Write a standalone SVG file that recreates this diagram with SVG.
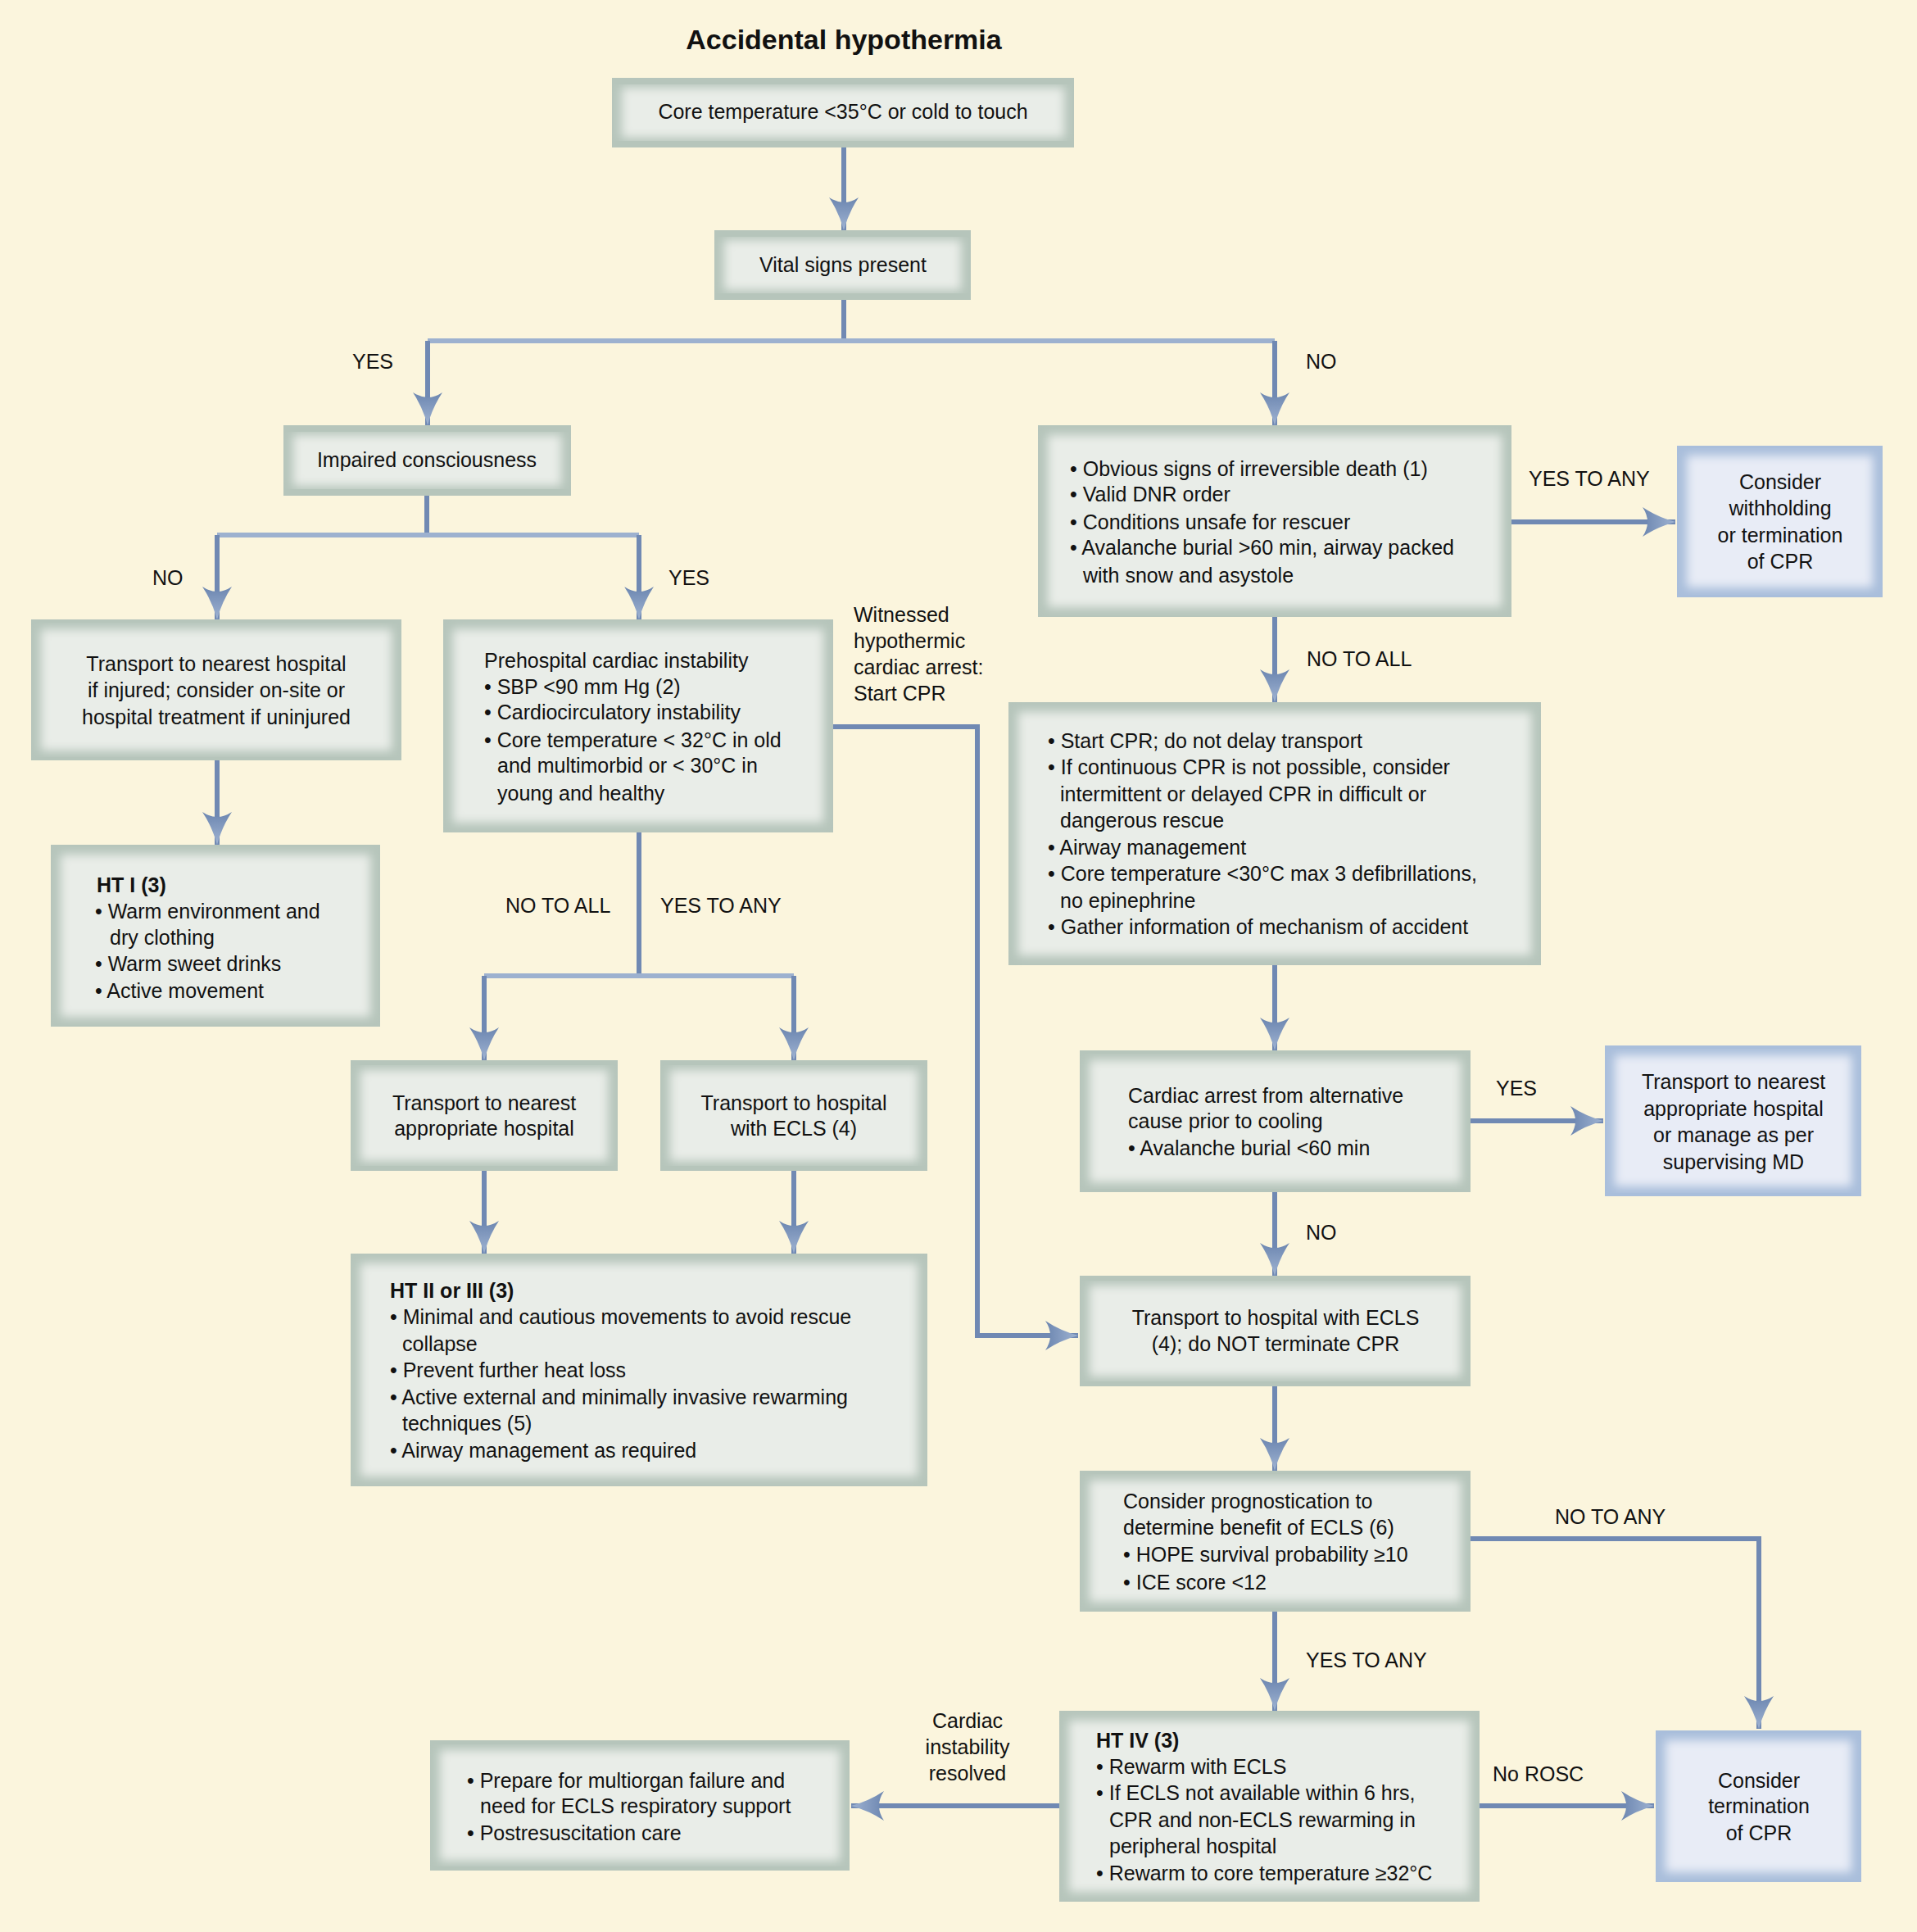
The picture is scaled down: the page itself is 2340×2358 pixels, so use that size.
<svg xmlns="http://www.w3.org/2000/svg" width="2340" height="2358" viewBox="0 0 2340 2358">
<style>
.t{font-family:"Liberation Sans",Arial,sans-serif;font-size:25px;fill:#111}
.c{text-anchor:middle}
.b{font-weight:bold}
.ln{fill:none;stroke:#7089b3;stroke-width:6}
.lt{fill:none;stroke:#9db1cf;stroke-width:6}
.go{fill:#b6c5bb}
.gi{fill:#e9ede8;filter:url(#bl)}
.bo{fill:#a9bedb}
.bi{fill:#e8ecf6;filter:url(#bl)}
</style>
<defs>
<filter id="bl" x="-5%" y="-5%" width="110%" height="110%"><feGaussianBlur stdDeviation="6"/></filter>
<linearGradient id="ag" x1="0" y1="0" x2="1" y2="0"><stop offset="0" stop-color="#6c86b0"/><stop offset="1" stop-color="#9fb3d2"/></linearGradient>
<marker id="ar" viewBox="0 0 40 40" refX="40" refY="20" markerWidth="40" markerHeight="40" markerUnits="userSpaceOnUse" orient="auto">
<path d="M0,2 Q18,14 40,20 Q18,26 0,38 Q12,20 0,2 Z" fill="url(#ag)"/>
</marker>
</defs>
<rect width="2340" height="2358" fill="#fbf5dd"/>
<text class="t c b" x="1030" y="60" style="font-size:34px">Accidental hypothermia</text>

<g id="connectors">
<path class="ln" d="M1030,180 V281" marker-end="url(#ar)"/>
<path class="ln" d="M1030,366 V416"/>
<path class="lt" d="M522,416 H1556"/>
<path class="ln" d="M522,416 V519" marker-end="url(#ar)"/>
<path class="ln" d="M1556,416 V519" marker-end="url(#ar)"/>
<path class="ln" d="M521,605 V653"/>
<path class="lt" d="M265,653 H780"/>
<path class="ln" d="M265,653 V756" marker-end="url(#ar)"/>
<path class="ln" d="M780,653 V756" marker-end="url(#ar)"/>
<path class="ln" d="M265,928 V1031" marker-end="url(#ar)"/>
<path class="ln" d="M780,1016 V1191"/>
<path class="lt" d="M591,1191 H969"/>
<path class="ln" d="M591,1191 V1294" marker-end="url(#ar)"/>
<path class="ln" d="M969,1191 V1294" marker-end="url(#ar)"/>
<path class="ln" d="M591,1429 V1530" marker-end="url(#ar)"/>
<path class="ln" d="M969,1429 V1530" marker-end="url(#ar)"/>
<path class="ln" d="M1017,887 H1193 V1630 H1316" marker-end="url(#ar)"/>
<path class="ln" d="M1845,637 H2045" marker-end="url(#ar)"/>
<path class="ln" d="M1556,753 V857" marker-end="url(#ar)"/>
<path class="ln" d="M1556,1178 V1282" marker-end="url(#ar)"/>
<path class="ln" d="M1795,1368 H1957" marker-end="url(#ar)"/>
<path class="ln" d="M1556,1455 V1557" marker-end="url(#ar)"/>
<path class="ln" d="M1556,1692 V1795" marker-end="url(#ar)"/>
<path class="ln" d="M1795,1878 H2147 V2110" marker-end="url(#ar)"/>
<path class="ln" d="M1556,1967 V2088" marker-end="url(#ar)"/>
<path class="ln" d="M1806,2204 H2019" marker-end="url(#ar)"/>
<path class="ln" d="M1293,2204 H1039" marker-end="url(#ar)"/>
</g>

<g id="labels">
<text class="t" x="430" y="450">YES</text>
<text class="t" x="1594" y="450">NO</text>
<text class="t" x="186" y="714">NO</text>
<text class="t" x="816" y="714">YES</text>
<text class="t" x="617" y="1114">NO TO ALL</text>
<text class="t" x="806" y="1114">YES TO ANY</text>
<text class="t" x="1042" y="759">Witnessed<tspan x="1042" dy="32">hypothermic</tspan><tspan x="1042" dy="32">cardiac arrest:</tspan><tspan x="1042" dy="32">Start CPR</tspan></text>
<text class="t" x="1866" y="593">YES TO ANY</text>
<text class="t" x="1595" y="813">NO TO ALL</text>
<text class="t" x="1826" y="1337">YES</text>
<text class="t" x="1594" y="1513">NO</text>
<text class="t" x="1898" y="1860">NO TO ANY</text>
<text class="t" x="1594" y="2035">YES TO ANY</text>
<text class="t" x="1822" y="2174">No ROSC</text>
<text class="t c" x="1181" y="2109">Cardiac<tspan x="1181" dy="32">instability</tspan><tspan x="1181" dy="32">resolved</tspan></text>
</g>

<g id="n1"><rect class="go" x="747" y="95" width="564" height="85"/><rect class="gi" x="759" y="107" width="540" height="61"/>
<text class="t c" x="1029" y="145">Core temperature &lt;35°C or cold to touch</text></g>
<g id="n2"><rect class="go" x="872" y="281" width="313" height="85"/><rect class="gi" x="884" y="293" width="289" height="61"/>
<text class="t c" x="1029" y="332">Vital signs present</text></g>
<g id="n3"><rect class="go" x="346" y="519" width="351" height="86"/><rect class="gi" x="358" y="531" width="327" height="62"/>
<text class="t c" x="521" y="570">Impaired consciousness</text></g>
<g id="n4"><rect class="go" x="38" y="756" width="452" height="172"/><rect class="gi" x="50" y="768" width="428" height="148"/>
<text class="t c" x="264" y="819">Transport to nearest hospital<tspan x="264" dy="32">if injured; consider on-site or</tspan><tspan x="264" dy="33">hospital treatment if uninjured</tspan></text></g>
<g id="n5"><rect class="go" x="62" y="1031" width="402" height="222"/><rect class="gi" x="74" y="1043" width="378" height="198"/>
<text class="t" x="118" y="1089"><tspan class="b">HT I (3)</tspan><tspan x="116" dy="32">• Warm environment and</tspan><tspan x="134" dy="32">dry clothing</tspan><tspan x="116" dy="32">• Warm sweet drinks</tspan><tspan x="116" dy="33">• Active movement</tspan></text></g>
<g id="n6"><rect class="go" x="541" y="756" width="476" height="260"/><rect class="gi" x="553" y="768" width="452" height="236"/>
<text class="t" x="591" y="815">Prehospital cardiac instability<tspan x="591" dy="32">• SBP &lt;90 mm Hg (2)</tspan><tspan x="591" dy="31">• Cardiocirculatory instability</tspan><tspan x="591" dy="34">• Core temperature &lt; 32°C in old</tspan><tspan x="607" dy="31">and multimorbid or &lt; 30°C in</tspan><tspan x="607" dy="34">young and healthy</tspan></text></g>
<g id="n7"><rect class="go" x="428" y="1294" width="326" height="135"/><rect class="gi" x="440" y="1306" width="302" height="111"/>
<text class="t c" x="591" y="1355">Transport to nearest<tspan x="591" dy="31">appropriate hospital</tspan></text></g>
<g id="n8"><rect class="go" x="806" y="1294" width="326" height="135"/><rect class="gi" x="818" y="1306" width="302" height="111"/>
<text class="t c" x="969" y="1355">Transport to hospital<tspan x="969" dy="31">with ECLS (4)</tspan></text></g>
<g id="n9"><rect class="go" x="428" y="1530" width="704" height="284"/><rect class="gi" x="440" y="1542" width="680" height="260"/>
<text class="t" x="476" y="1584"><tspan class="b">HT II or III (3)</tspan><tspan x="476" dy="32">• Minimal and cautious movements to avoid rescue</tspan><tspan x="491" dy="33">collapse</tspan><tspan x="476" dy="32">• Prevent further heat loss</tspan><tspan x="476" dy="33">• Active external and minimally invasive rewarming</tspan><tspan x="491" dy="32">techniques (5)</tspan><tspan x="476" dy="33">• Airway management as required</tspan></text></g>
<g id="n10"><rect class="go" x="1267" y="519" width="578" height="234"/><rect class="gi" x="1279" y="531" width="554" height="210"/>
<text class="t" x="1306" y="581">• Obvious signs of irreversible death (1)<tspan x="1306" dy="31">• Valid DNR order</tspan><tspan x="1306" dy="34">• Conditions unsafe for rescuer</tspan><tspan x="1306" dy="31">• Avalanche burial &gt;60 min, airway packed</tspan><tspan x="1322" dy="34">with snow and asystole</tspan></text></g>
<g id="n11"><rect class="bo" x="2047" y="544" width="251" height="185"/><rect class="bi" x="2059" y="556" width="227" height="161"/>
<text class="t c" x="2173" y="597">Consider<tspan x="2173" dy="32">withholding</tspan><tspan x="2173" dy="33">or termination</tspan><tspan x="2173" dy="32">of CPR</tspan></text></g>
<g id="n12"><rect class="go" x="1231" y="857" width="650" height="321"/><rect class="gi" x="1243" y="869" width="626" height="297"/>
<text class="t" x="1279" y="913">• Start CPR; do not delay transport<tspan x="1279" dy="32">• If continuous CPR is not possible, consider</tspan><tspan x="1294" dy="33">intermittent or delayed CPR in difficult or</tspan><tspan x="1294" dy="32">dangerous rescue</tspan><tspan x="1279" dy="33">• Airway management</tspan><tspan x="1279" dy="32">• Core temperature &lt;30°C max 3 defibrillations,</tspan><tspan x="1294" dy="33">no epinephrine</tspan><tspan x="1279" dy="32">• Gather information of mechanism of accident</tspan></text></g>
<g id="n13"><rect class="go" x="1318" y="1282" width="477" height="173"/><rect class="gi" x="1330" y="1294" width="453" height="149"/>
<text class="t" x="1377" y="1346">Cardiac arrest from alternative<tspan x="1377" dy="31">cause prior to cooling</tspan><tspan x="1377" dy="33">• Avalanche burial &lt;60 min</tspan></text></g>
<g id="n14"><rect class="bo" x="1959" y="1276" width="313" height="184"/><rect class="bi" x="1971" y="1288" width="289" height="160"/>
<text class="t c" x="2116" y="1329">Transport to nearest<tspan x="2116" dy="33">appropriate hospital</tspan><tspan x="2116" dy="32">or manage as per</tspan><tspan x="2116" dy="33">supervising MD</tspan></text></g>
<g id="n15"><rect class="go" x="1318" y="1557" width="477" height="135"/><rect class="gi" x="1330" y="1569" width="453" height="111"/>
<text class="t c" x="1557" y="1617">Transport to hospital with ECLS<tspan x="1557" dy="32">(4); do NOT terminate CPR</tspan></text></g>
<g id="n16"><rect class="go" x="1318" y="1795" width="477" height="172"/><rect class="gi" x="1330" y="1807" width="453" height="148"/>
<text class="t" x="1371" y="1841">Consider prognostication to<tspan x="1371" dy="32">determine benefit of ECLS (6)</tspan><tspan x="1371" dy="33">• HOPE survival probability ≥10</tspan><tspan x="1371" dy="34">• ICE score &lt;12</tspan></text></g>
<g id="n17"><rect class="go" x="1293" y="2088" width="513" height="233"/><rect class="gi" x="1305" y="2100" width="489" height="209"/>
<text class="t" x="1338" y="2133"><tspan class="b">HT IV (3)</tspan><tspan x="1338" dy="32">• Rewarm with ECLS</tspan><tspan x="1338" dy="32">• If ECLS not available within 6 hrs,</tspan><tspan x="1354" dy="33">CPR and non-ECLS rewarming in</tspan><tspan x="1354" dy="32">peripheral hospital</tspan><tspan x="1338" dy="33">• Rewarm to core temperature ≥32°C</tspan></text></g>
<g id="n18"><rect class="bo" x="2021" y="2112" width="251" height="185"/><rect class="bi" x="2033" y="2124" width="227" height="161"/>
<text class="t c" x="2147" y="2182">Consider<tspan x="2147" dy="31">termination</tspan><tspan x="2147" dy="33">of CPR</tspan></text></g>
<g id="n19"><rect class="go" x="525" y="2124" width="512" height="159"/><rect class="gi" x="537" y="2136" width="488" height="135"/>
<text class="t" x="570" y="2182">• Prepare for multiorgan failure and<tspan x="586" dy="31">need for ECLS respiratory support</tspan><tspan x="570" dy="33">• Postresuscitation care</tspan></text></g>
</svg>
